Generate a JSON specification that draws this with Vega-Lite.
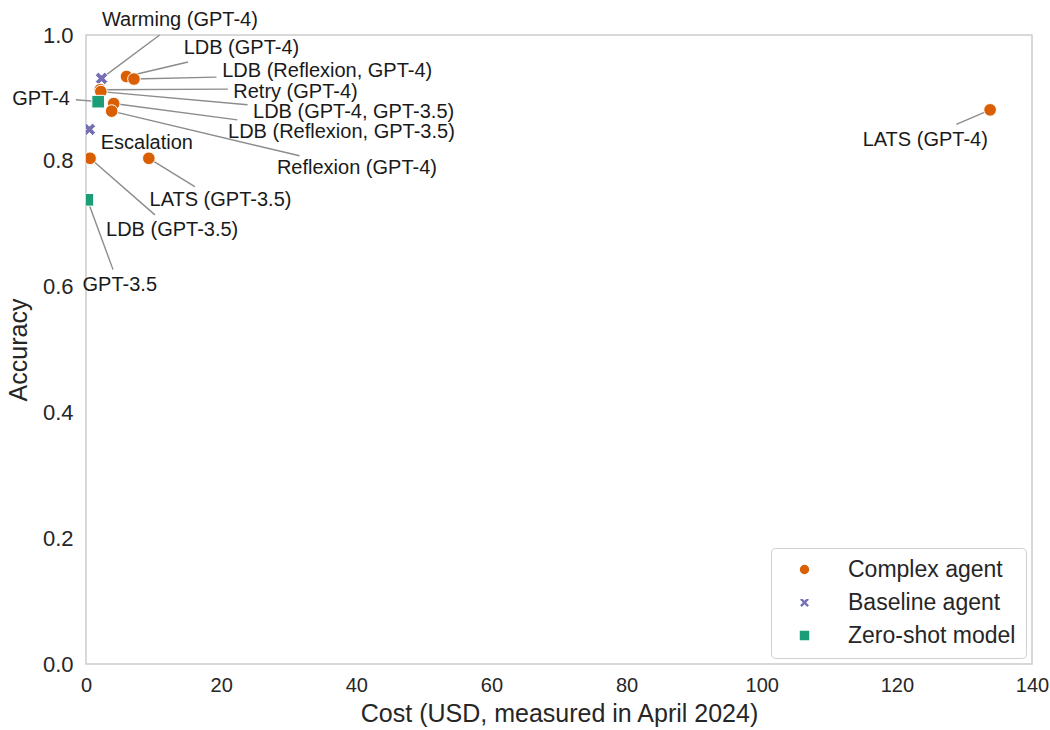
{
  "$schema": "https://vega.github.io/schema/vega-lite/v6.json",
  "autosize": "none",
  "width": 946,
  "height": 629,
  "padding": {"left": 86, "top": 35, "right": 18, "bottom": 66},
  "background": "white",
  "config": {
    "font": "Liberation Sans",
    "view": {"stroke": "#cccccc", "strokeWidth": 1.5},
    "axis": {"domain": false, "ticks": false, "grid": false, "labelFlush": false, "labelFont": "Liberation Sans", "labelFontSize": 22, "labelColor": "#262626", "titleFont": "Liberation Sans", "titleFontSize": 25, "titleFontWeight": "normal", "titleColor": "#262626"},
    "legend": {"labelFont": "Liberation Sans", "labelFontSize": 23, "labelColor": "#262626"}
  },
  "data": {"values": [
    {"name": "Warming (GPT-4)", "type": "Baseline agent", "cost": 2.3, "acc": 0.931, "lx": 13.9, "ly": 1.024, "ex": 10.9, "ey": 1.0},
    {"name": "LDB (GPT-4)", "type": "Complex agent", "cost": 6.0, "acc": 0.934, "lx": 23.0, "ly": 0.979, "ex": 15.1, "ey": 0.957},
    {"name": "LDB (Reflexion, GPT-4)", "type": "Complex agent", "cost": 7.1, "acc": 0.930, "lx": 35.7, "ly": 0.942, "ex": 19.3, "ey": 0.933},
    {"name": "Retry (GPT-4)", "type": "Complex agent", "cost": 2.1, "acc": 0.913, "lx": 31.0, "ly": 0.910, "ex": 21.0, "ey": 0.914},
    {"name": "LDB (GPT-4, GPT-3.5)", "type": "Complex agent", "cost": 2.2, "acc": 0.910, "lx": 39.6, "ly": 0.878, "ex": 23.9, "ey": 0.889},
    {"name": "LDB (Reflexion, GPT-3.5)", "type": "Complex agent", "cost": 4.1, "acc": 0.891, "lx": 37.8, "ly": 0.845, "ex": 22.4, "ey": 0.865},
    {"name": "Reflexion (GPT-4)", "type": "Complex agent", "cost": 3.8, "acc": 0.879, "lx": 40.1, "ly": 0.789, "ex": 31.6, "ey": 0.808},
    {"name": "GPT-4", "type": "Zero-shot model", "cost": 1.8, "acc": 0.894, "lx": -6.65, "ly": 0.898, "ex": -1.5, "ey": 0.897},
    {"name": "Escalation", "type": "Baseline agent", "cost": 0.5, "acc": 0.850, "lx": 9.0, "ly": 0.828, "ex": 0.5, "ey": 0.850},
    {"name": "LDB (GPT-3.5)", "type": "Complex agent", "cost": 0.6, "acc": 0.804, "lx": 12.75, "ly": 0.690, "ex": 10.2, "ey": 0.714},
    {"name": "LATS (GPT-3.5)", "type": "Complex agent", "cost": 9.3, "acc": 0.804, "lx": 19.9, "ly": 0.738, "ex": 16.1, "ey": 0.759},
    {"name": "GPT-3.5", "type": "Zero-shot model", "cost": 0.2, "acc": 0.738, "lx": 5.0, "ly": 0.603, "ex": 4.0, "ey": 0.627},
    {"name": "LATS (GPT-4)", "type": "Complex agent", "cost": 133.8, "acc": 0.881, "lx": 124.2, "ly": 0.833, "ex": 128.8, "ey": 0.858}
  ]},
  "layer": [
    {
      "mark": {"type": "rule", "color": "#8c8c8c", "strokeWidth": 1.4},
      "encoding": {
        "x": {"field": "cost", "type": "quantitative", "scale": {"domain": [0, 140], "nice": false, "zero": false},
              "axis": {"values": [0, 20, 40, 60, 80, 100, 120, 140], "labelPadding": 11, "labelFontSize": 20, "title": "Cost (USD, measured in April 2024)", "titlePadding": 6}},
        "y": {"field": "acc", "type": "quantitative", "scale": {"domain": [0, 1], "nice": false, "zero": false},
              "axis": {"values": [0, 0.2, 0.4, 0.6, 0.8, 1.0], "format": ".1f", "labelPadding": 13, "title": "Accuracy", "titlePadding": 11}},
        "x2": {"field": "ex"},
        "y2": {"field": "ey"}
      }
    },
    {
      "mark": {"type": "point", "filled": true, "opacity": 1, "stroke": "white", "strokeWidth": 1, "clip": true},
      "encoding": {
        "x": {"field": "cost", "type": "quantitative"},
        "y": {"field": "acc", "type": "quantitative"},
        "color": {"field": "type", "type": "nominal",
                  "scale": {"domain": ["Complex agent", "Baseline agent", "Zero-shot model"], "range": ["#d95f02", "#7570b3", "#1b9e77"]},
                  "legend": {"title": null, "orient": "none", "legendX": 685, "legendY": 513, "padding": 10, "strokeColor": "#d0d0d0", "fillColor": "white", "cornerRadius": 4, "symbolSize": 120, "labelOffset": 32, "rowPadding": 9, "symbolOffset": 12, "labelLimit": 300}},
        "shape": {"field": "type", "type": "nominal",
                  "scale": {"domain": ["Complex agent", "Baseline agent", "Zero-shot model"], "range": ["circle", "M-1,-0.5L-0.5,-1L0,-0.5L0.5,-1L1,-0.5L0.5,0L1,0.5L0.5,1L0,0.5L-0.5,1L-1,0.5L-0.5,0Z", "square"]},
                  "legend": null},
        "size": {"value": 160}
      }
    },
    {
      "mark": {"type": "text", "fontSize": 20, "color": "#1a1a1a", "align": "center", "baseline": "middle", "font": "Liberation Sans"},
      "encoding": {
        "x": {"field": "lx", "type": "quantitative"},
        "y": {"field": "ly", "type": "quantitative"},
        "text": {"field": "name"}
      }
    }
  ]
}
